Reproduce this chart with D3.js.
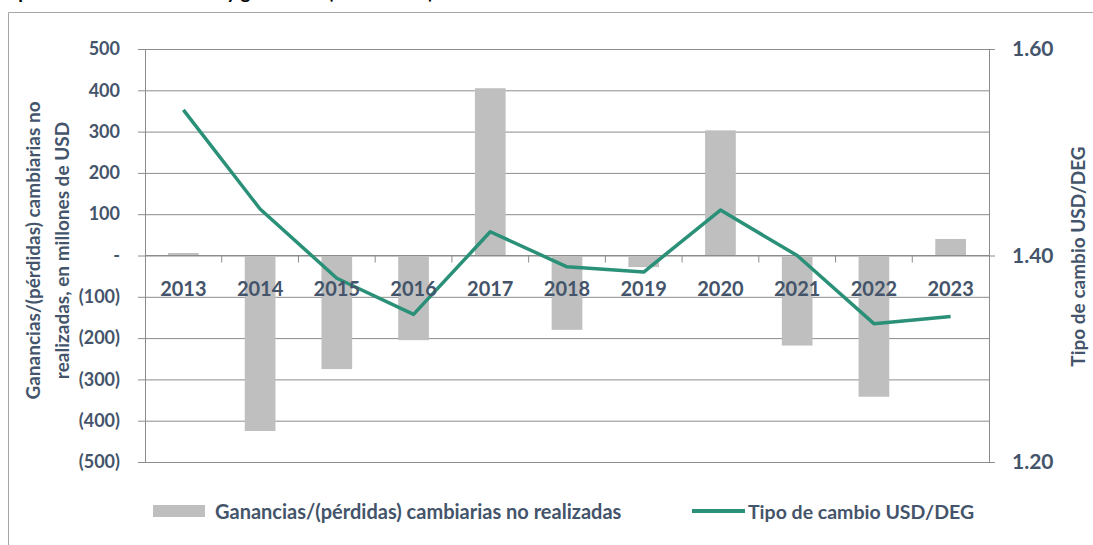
<!DOCTYPE html>
<html>
<head>
<meta charset="utf-8">
<script src="https://cdn.jsdelivr.net/npm/d3@7"></script>
<style>
  html, body { margin: 0; padding: 0; background: #fff; }
  svg { display: block; }
  text { font-family: Lato, "Open Sans", sans-serif; font-weight: 700; }
</style>
</head>
<body>
<svg id="chart" width="1093" height="545"></svg>
<script>
// ---- data ----
const years = ["2013","2014","2015","2016","2017","2018","2019","2020","2021","2022","2023"];
const gains = [6, -425, -275, -205, 405, -180, -28, 303, -218, -342, 40];          // millones de USD
const rates = [1.541, 1.445, 1.378, 1.343, 1.423, 1.389, 1.384, 1.444, 1.400, 1.334, 1.341]; // USD/DEG
const leftTicks = [-500, -400, -300, -200, -100, 0, 100, 200, 300, 400, 500];
const rightTicks = [1.20, 1.40, 1.60];
const titleText = "Tipo de cambio USD/DEG y ganancias (2013-2023)";
const leftTitle = ["Ganancias/(pérdidas) cambiarias no", "realizadas, en millones de USD"];
const rightTitle = "Tipo de cambio USD/DEG";
const legendBar = "Ganancias/(pérdidas) cambiarias no realizadas";
const legendLine = "Tipo de cambio USD/DEG";

// ---- layout ----
const W = 1093, H = 545;
const plot = { left: 145, right: 989, top: 49, bottom: 462 };
const textColor = "#44546A";
const gridColor = "#8c8c8c";
const barColor = "#BFBFBF";
const lineColor = "#2A9078";

const svg = d3.select("#chart");

// frame
svg.append("path")
  .attr("d", `M8.5,${H+5} L8.5,12.5 L${W+5},12.5`)
  .attr("fill", "none").attr("stroke", "#a6a6a6").attr("stroke-width", 1);

// title (cropped at the top edge, as in the reference)
svg.append("text").attr("x", 2).attr("y", -1)
  .attr("font-size", 19).attr("fill", "#000").text(titleText);

const x = d3.scaleBand().domain(years).range([plot.left, plot.right])
  .paddingInner(0.6).paddingOuter(0.3);
const yL = d3.scaleLinear().domain([-500, 500]).range([plot.bottom, plot.top]);
const yR = d3.scaleLinear().domain([1.2, 1.6]).range([plot.bottom, plot.top]);

const fmtL = v => v === 0 ? "-" : (v < 0 ? `(${Math.abs(v)})` : `${v}`);

// gridlines
const grid = svg.append("g").attr("transform", `translate(${plot.left},0)`)
  .call(d3.axisLeft(yL).tickValues(leftTicks).tickSize(-(plot.right - plot.left)).tickFormat(""));
grid.select(".domain").remove();
grid.selectAll("line").attr("stroke", gridColor).attr("stroke-width", 1);

// bars
svg.append("g").selectAll("rect").data(years).join("rect")
  .attr("x", (d) => x(d))
  .attr("width", x.bandwidth())
  .attr("y", (d, i) => yL(Math.max(0, gains[i])))
  .attr("height", (d, i) => Math.abs(yL(gains[i]) - yL(0)))
  .attr("fill", barColor);

// left axis
const axL = svg.append("g").attr("transform", `translate(${plot.left},0)`)
  .call(d3.axisLeft(yL).tickValues(leftTicks).tickSize(7).tickPadding(18).tickFormat(fmtL));
axL.select(".domain").attr("stroke", gridColor);
axL.selectAll("line").attr("stroke", gridColor);
axL.selectAll("text").attr("fill", textColor).attr("font-size", 18)
  .attr("font-family", "Lato").attr("font-weight", 700);

// right axis
const axR = svg.append("g").attr("transform", `translate(${plot.right},0)`)
  .call(d3.axisRight(yR).tickValues(rightTicks).tickSize(6).tickPadding(17).tickFormat(d3.format(".2f")));
axR.select(".domain").attr("stroke", gridColor);
axR.selectAll("line").attr("stroke", gridColor);
axR.selectAll("text").attr("fill", textColor).attr("font-size", 21)
  .attr("font-family", "Lato").attr("font-weight", 700);

// x axis (zero line) with category boundary ticks
const y0 = yL(0);
svg.append("line").attr("x1", plot.left).attr("x2", plot.right)
  .attr("y1", y0).attr("y2", y0).attr("stroke", gridColor);
const step = x.step();
svg.append("g").selectAll("line").data(years.slice(1)).join("line")
  .attr("x1", d => x(d) + x.bandwidth() / 2 - step / 2)
  .attr("x2", d => x(d) + x.bandwidth() / 2 - step / 2)
  .attr("y1", y0).attr("y2", y0 + 7)
  .attr("stroke", gridColor);

// line
const line = d3.line()
  .x((d, i) => x(years[i]) + x.bandwidth() / 2)
  .y(d => yR(d));
svg.append("path").datum(rates)
  .attr("d", line)
  .attr("fill", "none").attr("stroke", lineColor).attr("stroke-width", 3.5)
  .attr("stroke-linejoin", "round");

// x labels (on top)
svg.append("g").selectAll("text").data(years).join("text")
  .attr("x", d => x(d) + x.bandwidth() / 2)
  .attr("y", y0 + 32)
  .attr("text-anchor", "middle").attr("dominant-baseline", "central")
  .attr("font-size", 20).attr("fill", textColor)
  .text(d => d);

// axis titles
const yMid = (plot.top + plot.bottom) / 2;
leftTitle.forEach((t, i) => {
  svg.append("text")
    .attr("transform", `translate(${32 + i * 29},${yMid - 5}) rotate(-90)`)
    .attr("text-anchor", "middle").attr("dominant-baseline", "central")
    .attr("font-size", 19).attr("fill", textColor).text(t);
});
svg.append("text")
  .attr("transform", `translate(1077,${yMid + 1}) rotate(-90)`)
  .attr("text-anchor", "middle").attr("dominant-baseline", "central")
  .attr("font-size", 19).attr("fill", textColor).text(rightTitle);

// legend
const lg = svg.append("g");
lg.append("rect").attr("x", 153).attr("y", 505).attr("width", 52).attr("height", 12).attr("fill", barColor);
lg.append("text").attr("x", 215).attr("y", 511).attr("dominant-baseline", "central")
  .attr("font-size", 20).attr("fill", textColor).text(legendBar);
lg.append("line").attr("x1", 692).attr("x2", 745).attr("y1", 511).attr("y2", 511)
  .attr("stroke", lineColor).attr("stroke-width", 4);
lg.append("text").attr("x", 748).attr("y", 511).attr("dominant-baseline", "central")
  .attr("font-size", 19.5).attr("fill", textColor).text(legendLine);
</script>
</body>
</html>
